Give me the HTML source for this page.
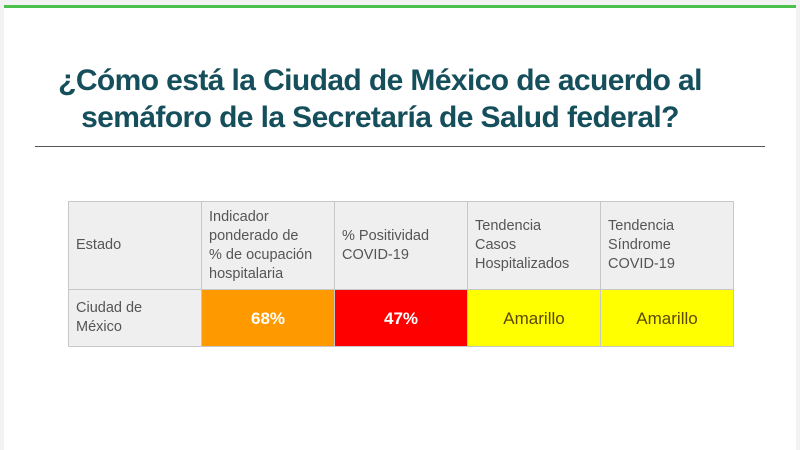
<!DOCTYPE html>
<html><head><meta charset="utf-8"><style>
body{margin:0;width:800px;height:450px;background:#f3f3f3;overflow:hidden;font-family:"Liberation Sans",sans-serif}
.card{position:absolute;left:4px;top:5px;width:792px;height:445px;background:#fff}
.bar{position:absolute;left:4px;top:5px;width:792px;height:3px;background:#4cc04c}
h1{position:absolute;left:0;top:62px;width:760px;margin:0;text-align:center;font-size:30px;line-height:37px;color:#164f5c;font-weight:bold;letter-spacing:-0.6px}
.rule{position:absolute;left:35px;top:146px;width:730px;height:1px;background:#555}
table{position:absolute;left:68px;top:201px;border-collapse:collapse;table-layout:fixed;width:666px}
td{border:1px solid #c8c8c8;width:133px;padding:0 7px;box-sizing:border-box;font-size:14.5px;line-height:19px;color:#555;vertical-align:middle;white-space:nowrap}
tr.h td{height:88px;background:#efefef}
tr.d td{height:57px}
.v{text-align:center;font-size:17px;font-weight:bold}
</style></head><body>
<div class="card"></div><div class="bar"></div>
<h1>¿Cómo está la Ciudad de México de acuerdo al<br>semáforo de la Secretaría de Salud federal?</h1>
<div class="rule"></div>
<table>
<tr class="h"><td>Estado</td><td>Indicador<br>ponderado de<br>% de ocupación<br>hospitalaria</td><td>% Positividad<br>COVID-19</td><td>Tendencia<br>Casos<br>Hospitalizados</td><td>Tendencia<br>Síndrome<br>COVID-19</td></tr>
<tr class="d"><td style="background:#efefef">Ciudad de<br>México</td><td class="v" style="background:#ff9900;color:#fff">68%</td><td class="v" style="background:#ff0000;color:#fff">47%</td><td class="v" style="background:#ffff00;color:#5a4a00;font-weight:normal">Amarillo</td><td class="v" style="background:#ffff00;color:#5a4a00;font-weight:normal">Amarillo</td></tr>
</table>
</body></html>
